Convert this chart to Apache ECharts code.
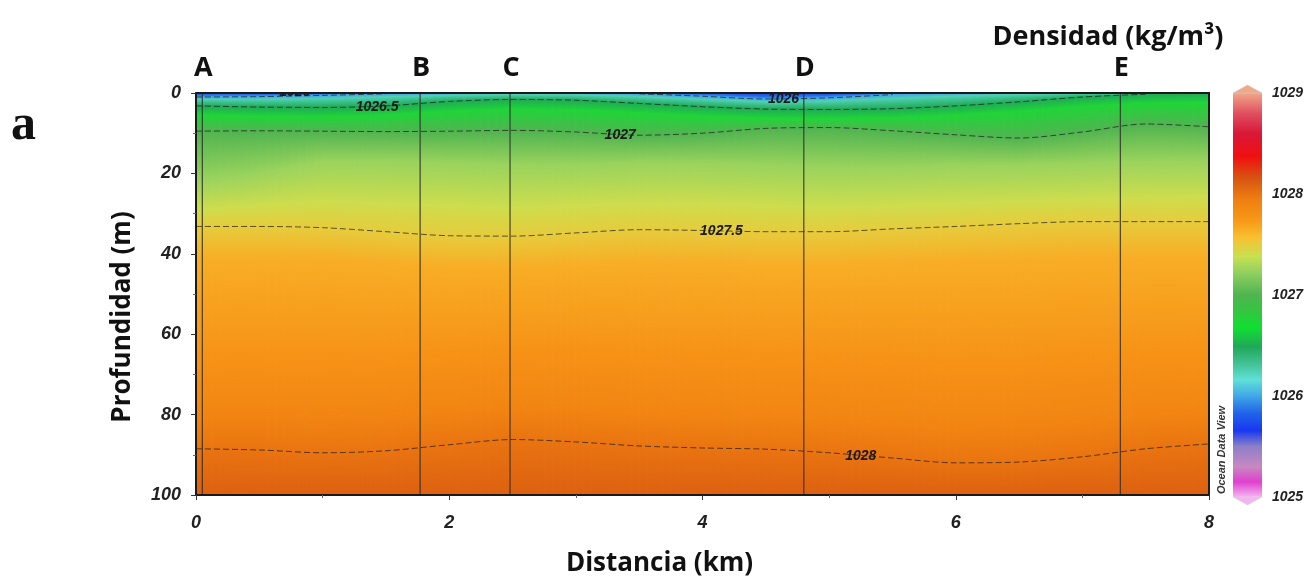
<!DOCTYPE html>
<html><head><meta charset="utf-8">
<script src="https://cdn.jsdelivr.net/npm/echarts@6/dist/echarts.min.js"></script>
<style>html,body{margin:0;padding:0;background:#fff}#c{width:1304px;height:583px}</style>
</head><body><div id="c"></div>
<script>
// ---------- DATA ----------
// distance along the section (km) of each profile column
const distances = [0, 0.5, 1, 1.5, 2, 2.5, 3, 3.5, 4, 4.5, 5, 5.5, 6, 6.5, 7, 7.5, 8];
// density levels (kg/m3) whose depth (m) is given for each column (0 = outcropped at surface)
const isoLevels = [1025.7, 1025.85, 1026, 1026.25, 1026.5, 1026.75, 1027, 1027.25, 1027.4, 1027.5, 1027.65, 1027.8, 1027.9, 1028, 1028.1];
const iso1025_70 = [0, 0, 0, 0, 0, 0, 0, 0, 0, 0, 0, 0, 0, 0, 0, 0, 0];
const iso1025_85 = [0.5, 0.4, 0.2, 0, 0, 0, 0, 0, 0.3, 0.9, 0.6, 0, 0, 0, 0, 0, 0];
const iso1026_00 = [1.0, 0.9, 0.6, 0.2, 0, 0, 0, 0.2, 0.8, 1.5, 1.2, 0.4, 0, 0, 0, 0, 0];
const iso1026_25 = [1.6, 1.6, 1.4, 1.0, 0.6, 0.4, 0.5, 0.9, 1.6, 2.2, 2.0, 1.4, 0.8, 0.3, 0, 0, 0];
const iso1026_50 = [3.2, 3.5, 3.6, 3.2, 2.1, 1.6, 1.8, 2.6, 3.4, 4.0, 4.1, 3.9, 3.2, 2.2, 1.0, 0.3, 0];
const iso1026_75 = [5.5, 5.8, 6.0, 5.6, 4.6, 4.0, 4.2, 5.0, 5.8, 6.4, 6.5, 6.2, 5.6, 4.6, 3.4, 2.6, 2.4];
const iso1027_00 = [9.5, 9.4, 9.5, 9.6, 9.5, 9.3, 9.7, 10.5, 10.0, 8.8, 8.6, 9.4, 10.4, 11.2, 9.7, 7.7, 8.4];
const iso1027_25 = [22, 20, 17, 17, 17.5, 18, 18, 17.5, 17.5, 18, 18.5, 18.5, 18, 18, 17.5, 17, 17];
const iso1027_40 = [29, 28, 27, 27.5, 28, 28.5, 28, 27.5, 27.5, 28, 28.5, 28, 27.5, 27, 26.5, 26, 26];
const iso1027_50 = [33.2, 33.2, 33.5, 34.5, 35.5, 35.6, 34.8, 34.0, 34.2, 34.5, 34.5, 33.8, 33.2, 32.5, 32.0, 32.0, 32.0];
const iso1027_65 = [41.5, 41.5, 41.5, 42.5, 43.5, 43.5, 43, 42.5, 42.5, 43, 43, 42.5, 42, 41.5, 41, 41, 41];
const iso1027_80 = [67, 67, 67, 67, 66, 65, 65, 66, 66, 66.5, 67, 67.5, 68, 68, 67, 66, 66];
const iso1027_90 = [80, 80, 80.5, 80, 79, 78, 78.5, 79.5, 80, 80.5, 81, 82, 83, 82.5, 81.5, 80, 79.5];
const iso1028_00 = [88.5, 88.8, 89.5, 89, 87.5, 86.2, 86.8, 87.8, 88.3, 88.6, 89.5, 90.8, 92, 91.8, 90.5, 88.5, 87.3];
const iso1028_10 = [100, 100, 100, 100, 100, 100, 100, 100, 100, 100, 100, 100, 100, 100, 100, 100, 100];
const isoDepths = [iso1025_70, iso1025_85, iso1026_00, iso1026_25, iso1026_50, iso1026_75, iso1027_00,
  iso1027_25, iso1027_40, iso1027_50, iso1027_65, iso1027_80, iso1027_90, iso1028_00, iso1028_10];

// contoured levels (dashed lines)
const contourLevels = [1026, 1026.5, 1027, 1027.5, 1028];
// contour labels: text, distance (km), depth (m)
const contourLabelText = ['1026', '1026.5', '1027', '1027.5', '1028', '1026'];
const contourLabelKm = [0.78, 1.43, 3.35, 4.15, 5.25, 4.64];
const contourLabelDepth = [-0.1, 3.4, 10.6, 34.3, 90.3, 1.5];

// stations
const stationNames = ['A', 'B', 'C', 'D', 'E'];
const stationKm = [0.05, 1.77, 2.48, 4.80, 7.30];

// colour scale (density -> colour)
const cbValues = [1025.0, 1025.15, 1025.3, 1025.5, 1025.66, 1025.83, 1026.0, 1026.16, 1026.33, 1026.49, 1026.68, 1026.82, 1027.0, 1027.22, 1027.38, 1027.57, 1027.74, 1027.94, 1028.14, 1028.37, 1028.6, 1028.8, 1029.0];
const cbColors = ['#f4b4f0', '#e040d0', '#c888c0', '#8c80c8', '#1838f0', '#2064e8', '#40a8e8', '#60e0d8', '#40c090', '#20a858', '#10e030', '#30c840', '#50b450', '#90d060', '#c8e050', '#f8c030', '#f89818', '#f08010', '#d85810', '#f01010', '#d81838', '#e05060', '#f0a888'];

// ---------- helpers ----------
function hexToRgb(h) { return [parseInt(h.slice(1, 3), 16), parseInt(h.slice(3, 5), 16), parseInt(h.slice(5, 7), 16)]; }
function colorAt(v) {
  if (v <= cbValues[0]) return cbColors[0];
  for (let i = 1; i < cbValues.length; i++) {
    if (v <= cbValues[i]) {
      const t = (v - cbValues[i - 1]) / (cbValues[i] - cbValues[i - 1]);
      const a = hexToRgb(cbColors[i - 1]), b = hexToRgb(cbColors[i]);
      return 'rgb(' + a.map((c, k) => Math.round(c + (b[k] - c) * t)).join(',') + ')';
    }
  }
  return cbColors[cbColors.length - 1];
}

// table of cells between consecutive isopycnals
const fieldCells = [];
for (let k = 0; k < isoLevels.length - 1; k++) {
  for (let j = 0; j < distances.length - 1; j++) {
    fieldCells.push([distances[j], distances[j + 1], isoDepths[k][j], isoDepths[k][j + 1],
      isoDepths[k + 1][j], isoDepths[k + 1][j + 1], isoLevels[k], isoLevels[k + 1]]);
  }
}

const tickFont = { fontSize: 18, fontWeight: 'bold', fontStyle: 'italic', fontFamily: 'Liberation Sans', color: '#222' };
const nameFont = { fontSize: 26, fontWeight: 'bold', fontFamily: 'Open Sans', color: '#111' };
const frameLine = { show: true, onZero: false, lineStyle: { color: '#1a1a1a', width: 2 } };

const contourSeries = contourLevels.map(function (lv) {
  const idx = isoLevels.indexOf(lv);
  return {
    type: 'line', xAxisIndex: 0, yAxisIndex: 0, z: 3, silent: true, symbol: 'none', smooth: 0.3,
    connectNulls: false, animation: false,
    lineStyle: { color: 'rgba(25,25,25,0.7)', width: 1, type: [6, 3] },
    data: distances.map((x, j) => [x, isoDepths[idx][j] > 0 ? isoDepths[idx][j] : '-'])
  };
});

const option = {
  animation: false,
  backgroundColor: '#ffffff',
  grid: [
    { left: 196, top: 93, width: 1013, height: 402, containLabel: false, outerBoundsMode: 'none', show: false },
    { left: 1233, top: 93, width: 29, height: 404, containLabel: false, outerBoundsMode: 'none', show: false }
  ],
  xAxis: [
    { type: 'value', gridIndex: 0, min: 0, max: 8, interval: 2, position: 'bottom', z: 10,
      axisLine: frameLine,
      axisTick: { show: true, length: 5, lineStyle: { color: '#333', width: 1 } },
      minorTick: { show: true, splitNumber: 2, length: 3, lineStyle: { color: '#666' } },
      splitLine: { show: false },
      axisLabel: Object.assign({ margin: 19 }, tickFont),
      name: 'Distancia (km)', nameLocation: 'middle', nameGap: 56,
      nameTextStyle: Object.assign({ padding: [0, 86, 0, 0] }, nameFont) },
    { type: 'value', gridIndex: 0, min: 0, max: 8, position: 'top', z: 10,
      axisLine: frameLine, axisTick: { show: false }, axisLabel: { show: false }, splitLine: { show: false } },
    { type: 'value', gridIndex: 1, min: 0, max: 1, show: false }
  ],
  yAxis: [
    { type: 'value', gridIndex: 0, min: 0, max: 100, interval: 20, inverse: true, position: 'left', z: 10,
      axisLine: frameLine,
      axisTick: { show: true, length: 5, lineStyle: { color: '#333', width: 1 } },
      minorTick: { show: true, splitNumber: 2, length: 3, lineStyle: { color: '#666' } },
      splitLine: { show: false },
      axisLabel: Object.assign({ margin: 15 }, tickFont),
      name: 'Profundidad (m)', nameLocation: 'middle', nameGap: 60,
      nameTextStyle: Object.assign({ padding: [0, 46, 0, 0] }, nameFont) },
    { type: 'value', gridIndex: 0, min: 0, max: 100, inverse: true, position: 'right', z: 10,
      axisLine: frameLine, axisTick: { show: false }, axisLabel: { show: false }, splitLine: { show: false } },
    { type: 'value', gridIndex: 1, min: 1025, max: 1029, interval: 1, position: 'right',
      axisLine: { show: false }, axisTick: { show: false }, splitLine: { show: false },
      axisLabel: { margin: 10, fontSize: 14, fontWeight: 'bold', fontStyle: 'italic', fontFamily: 'Liberation Sans', color: '#222',
        formatter: function (v) { return String(v); } } }
  ],
  graphic: [
    { type: 'text', x: 11, y: 126, style: { text: 'a', font: 'bold 50px "Liberation Serif"', fill: '#111', align: 'left', verticalAlign: 'middle', textAlign: 'left', textVerticalAlign: 'middle' } },
    { type: 'text', x: 1108, y: 37, style: { text: 'Densidad (kg/m³)', font: 'bold 27px "Open Sans"', fill: '#111', align: 'center', verticalAlign: 'middle', textAlign: 'center', textVerticalAlign: 'middle' } },
    { type: 'text', x: 1222, y: 450, rotation: Math.PI / 2, style: { text: 'Ocean Data View', font: 'italic bold 11px "Liberation Sans"', fill: '#333', align: 'center', verticalAlign: 'middle', textAlign: 'center', textVerticalAlign: 'middle' } }
  ],
  series: [
    { // density field between isopycnals
      type: 'custom', xAxisIndex: 0, yAxisIndex: 0, z: 1, silent: true, clip: true,
      data: fieldCells,
      renderItem: function (params, api) {
        const x0 = api.value(0), x1 = api.value(1);
        const t0 = api.value(2), t1 = api.value(3), b0 = api.value(4), b1 = api.value(5);
        if (b0 - t0 <= 0 && b1 - t1 <= 0) return null;
        const c0 = colorAt(api.value(6)), c1 = colorAt(api.value(7));
        const N = 8, children = [];
        for (let s = 0; s < N; s++) {
          const fa = s / N, fb = (s + 1) / N;
          const xa = x0 + (x1 - x0) * fa, xb = x0 + (x1 - x0) * fb;
          const ta = t0 + (t1 - t0) * fa, tb = t0 + (t1 - t0) * fb;
          const ba = b0 + (b1 - b0) * fa, bb = b0 + (b1 - b0) * fb;
          if (ba - ta <= 0 && bb - tb <= 0) continue;
          const p = [api.coord([xa, ta]), api.coord([xb, tb]), api.coord([xb, bb]), api.coord([xa, ba])];
          const yTop = (p[0][1] + p[1][1]) / 2, yBot = Math.max((p[2][1] + p[3][1]) / 2, yTop + 0.01);
          const grad = new echarts.graphic.LinearGradient(0, yTop, 0, yBot,
            [{ offset: 0, color: c0 }, { offset: 1, color: c1 }], true);
          children.push({ type: 'polygon', shape: { points: p }, style: { fill: grad, stroke: grad, lineWidth: 1 } });
        }
        return { type: 'group', children: children };
      }
    },
    ...contourSeries,
    { // station lines and names
      type: 'custom', xAxisIndex: 0, yAxisIndex: 0, z: 4, silent: true, clip: false,
      data: stationKm.map((x, i) => [x, stationNames[i]]),
      renderItem: function (params, api) {
        const top = api.coord([api.value(0), 0]);
        const bot = api.coord([api.value(0), 100]);
        return { type: 'group', children: [
          { type: 'line', shape: { x1: top[0], y1: top[1], x2: bot[0], y2: bot[1] },
            style: { stroke: 'rgba(45,45,45,0.8)', lineWidth: 1.3 } },
          { type: 'text', style: { text: stationNames[params.dataIndex], x: top[0] + 1, y: top[1] - 25,
            font: 'bold 27px "Open Sans"', fill: '#111', align: 'center', verticalAlign: 'middle',
            textAlign: 'center', textVerticalAlign: 'middle' } }
        ] };
      }
    },
    { // contour labels
      type: 'custom', xAxisIndex: 0, yAxisIndex: 0, z: 5, silent: true, clip: false,
      data: contourLabelKm.map((x, i) => [x, contourLabelDepth[i], contourLabelText[i]]),
      renderItem: function (params, api) {
        const c = api.coord([api.value(0), api.value(1)]);
        const cs = params.coordSys;
        return { type: 'group',
          clipPath: { type: 'rect', shape: { x: cs.x, y: cs.y, width: cs.width, height: cs.height } },
          children: [{ type: 'text', style: { text: contourLabelText[params.dataIndex], x: c[0], y: c[1],
            font: 'italic bold 14px "Liberation Sans"', fill: '#1a1a1a', align: 'center', verticalAlign: 'middle',
            textAlign: 'center', textVerticalAlign: 'middle' } }] };
      }
    },
    { // colour bar
      type: 'custom', xAxisIndex: 2, yAxisIndex: 2, z: 1, silent: true, clip: false,
      data: [[0, 1029, 1, 1025]],
      renderItem: function (params, api) {
        const a = api.coord([api.value(0), api.value(1)]);
        const b = api.coord([api.value(2), api.value(3)]);
        const span = api.value(1) - api.value(3);
        const stops = [];
        for (let i = cbValues.length - 1; i >= 0; i--) stops.push({ offset: (api.value(1) - cbValues[i]) / span, color: cbColors[i] });
        const mid = (a[0] + b[0]) / 2;
        return { type: 'group', children: [
          { type: 'rect', shape: { x: a[0], y: a[1], width: b[0] - a[0], height: b[1] - a[1] },
            style: { fill: new echarts.graphic.LinearGradient(0, 0, 0, 1, stops) } },
          { type: 'polygon', shape: { points: [[a[0], a[1]], [mid, a[1] - 8], [b[0], a[1]]] },
            style: { fill: cbColors[cbColors.length - 1], stroke: '#cfcfcf', lineWidth: 0.6 } },
          { type: 'polygon', shape: { points: [[a[0], b[1]], [mid, b[1] + 8], [b[0], b[1]]] },
            style: { fill: cbColors[0], stroke: '#d8d8d8', lineWidth: 0.6 } }
        ] };
      }
    }
  ]
};

const chart = echarts.init(document.getElementById('c'), null, { renderer: 'canvas' });
chart.setOption(option);
</script>
</body></html>
